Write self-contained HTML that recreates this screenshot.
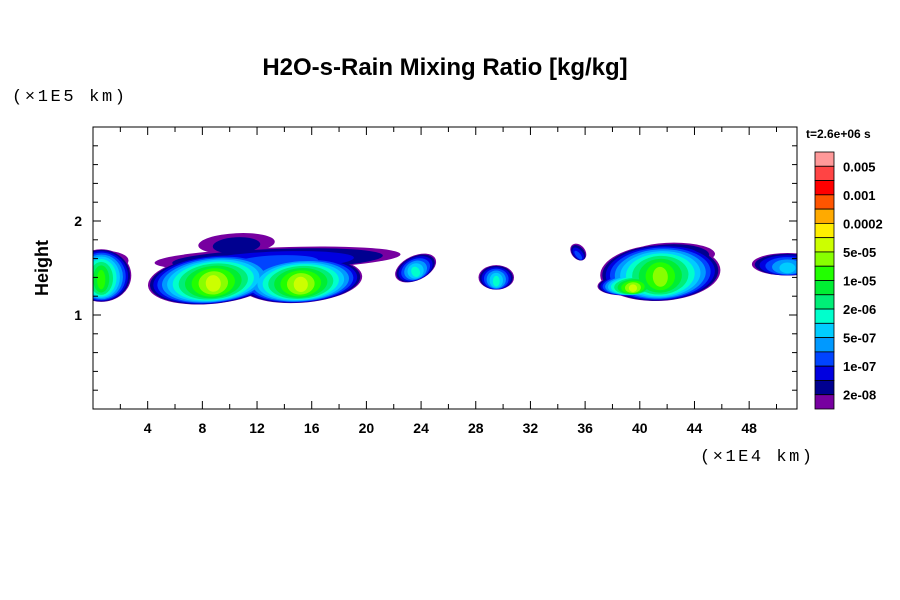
<!DOCTYPE html>
<html><head><meta charset="utf-8"><style>
body{margin:0;background:#fff;width:900px;height:600px;overflow:hidden}
svg{display:block;font-family:"Liberation Sans",sans-serif}
</style></head><body>
<svg id="chart" width="900" height="600">
<text x="445" y="75" text-anchor="middle" font-size="24" font-weight="bold">H2O-s-Rain Mixing Ratio [kg/kg]</text>
<text x="12" y="101" font-size="17" textLength="113" font-family="Liberation Mono, monospace">(×1E5 km)</text>
<text x="700" y="461" font-size="17" textLength="112" font-family="Liberation Mono, monospace">(×1E4 km)</text>
<text transform="translate(48,268) rotate(-90)" text-anchor="middle" font-size="18" font-weight="bold">Height</text>
<text x="806" y="138" font-size="12" font-weight="bold">t=2.6e+06 s</text>
<defs><clipPath id="pc"><rect x="93" y="127" width="704" height="282"/></clipPath></defs>
<g id="marks" clip-path="url(#pc)"></g>
<rect x="93" y="127" width="704" height="282" fill="none" stroke="#000" stroke-width="1"/>
<g id="axes"></g>
<g id="legend"></g>
</svg>
<script>
const colors=["#7700a0","#000090","#0000e0","#0044ff","#0099ff","#00ccff","#00ffcc","#00ee77","#00ee33","#22ff00","#88ff00","#ccff00","#ffee00","#ffaa00","#ff5500","#ff0000","#ff4444","#ff9999"];
const legendLabels=["2e-08","1e-07","5e-07","2e-06","1e-05","5e-05","0.0002","0.001","0.005"];
const xTicks=[4,8,12,16,20,24,28,32,36,40,44,48];
const yTicks=[1,2];
const blobX=[0.6,8.8,15.2,13.5,10.5,23.6,29.5,35.5,41.5,39.5,42.5,50.8,1.0];
const blobY=[1.42,1.38,1.37,1.6,1.76,1.5,1.4,1.67,1.45,1.33,1.65,1.54,1.58];
const blobRX=[2.2,4.8,4.5,9.0,2.8,1.6,1.3,0.5,4.4,2.6,3.0,2.6,1.6];
const blobRY=[0.28,0.26,0.24,0.12,0.11,0.13,0.13,0.1,0.3,0.12,0.12,0.12,0.1];
const blobRot=[0,-6,-4,-2,-3,-25,0,-40,-3,-4,0,0,0];
const blobPeak=[9,11,11,3,1,6,6,3,10,11,3,5,1];
const sx=v=>93+v*(704/51.5), sy=v=>409-v*94;
const NS="http://www.w3.org/2000/svg";
const marks=document.getElementById('marks');
const maxL=Math.max(...blobPeak);
for(let L=0;L<=maxL;L++){
  for(let i=0;i<blobX.length;i++){
    if(blobPeak[i]<L) continue;
    const f=1-Math.pow(L/(blobPeak[i]+1),1.4);
    const e=document.createElementNS(NS,'ellipse');
    const cx=sx(blobX[i]), cy=sy(blobY[i]-0.05*(1-f));
    e.setAttribute('cx',cx);e.setAttribute('cy',cy);
    e.setAttribute('rx',blobRX[i]*(704/51.5)*f);e.setAttribute('ry',blobRY[i]*94*Math.sqrt(f));
    e.setAttribute('transform','rotate('+blobRot[i]+' '+cx+' '+cy+')');
    e.setAttribute('fill',colors[L]);
    
    
    marks.appendChild(e);
  }
}
const axes=document.getElementById('axes');
function line(x1,y1,x2,y2,name){const l=document.createElementNS(NS,'line');l.setAttribute('x1',x1);l.setAttribute('y1',y1);l.setAttribute('x2',x2);l.setAttribute('y2',y2);l.setAttribute('stroke','#000');


axes.appendChild(l);}
function text(x,y,s,anchor,name,size){const t=document.createElementNS(NS,'text');t.setAttribute('x',x);t.setAttribute('y',y);t.setAttribute('text-anchor',anchor);t.setAttribute('font-size',size||14);t.setAttribute('font-weight','bold');t.textContent=s;


return t;}
for(let v=2;v<51.5;v+=2){const x=sx(v),len=v%4===0?8:5;line(x,409,x,409-len,'x-tick');line(x,127,x,127+len,'x-tick-top');}
for(const v of xTicks){axes.appendChild(text(sx(v),433,String(v),'middle','x-tick-label'));}
for(let k=1;k<15;k++){const v=k*0.2,y=sy(v),len=(k%5===0)?8:5;line(93,y,93+len,y,'y-tick');line(797,y,797-len,y,'y-tick-right');}
for(const v of yTicks){axes.appendChild(text(82,sy(v)+5,String(v),'end','y-tick-label'));}
const lg=document.getElementById('legend');
const barTop=152,bh=257/colors.length;
for(let i=0;i<colors.length;i++){const r=document.createElementNS(NS,'rect');r.setAttribute('x',815);r.setAttribute('y',barTop+i*bh);r.setAttribute('width',19);r.setAttribute('height',bh);r.setAttribute('fill',colors[colors.length-1-i]);r.setAttribute('stroke','#000');r.setAttribute('stroke-width','0.8');


lg.appendChild(r);}
for(let j=0;j<legendLabels.length;j++){const y=barTop+(colors.length-1-2*j)*bh;lg.appendChild(text(843,y+5,legendLabels[j],'start','colorbar-label',13));}
</script>
</body></html>
